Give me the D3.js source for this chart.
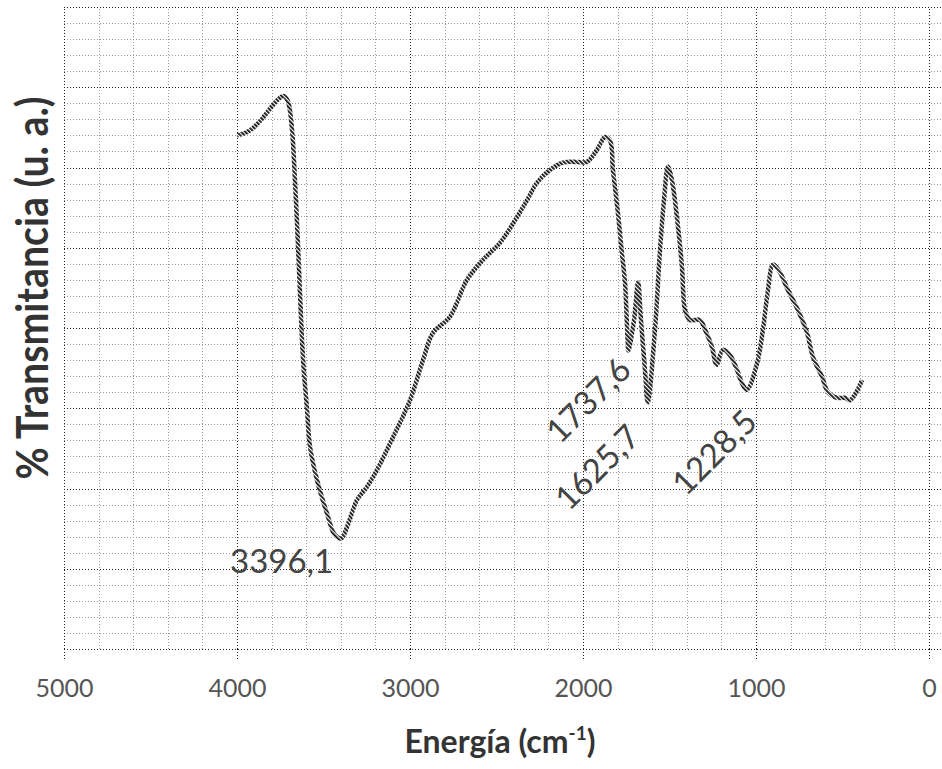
<!DOCTYPE html>
<meta charset="utf-8">
<script src="https://cdn.jsdelivr.net/npm/d3@7/dist/d3.min.js"></script>
<style>
	body{margin:0;background:#fff;font-family:Lato, "Open Sans", sans-serif;}
	.grid line{shape-rendering:crispEdges;}
</style>
<div id="chart"></div>
<script>
// IR spectrum, wavenumber (cm-1) vs transmittance (arbitrary units)
var wavenumber = [4000,3954,3908,3850,3792,3751,3728,3705,3682,3665,3647,3636,3618,3595,3578,3538,3480,3434,3396,3364,
	3306,3249,3191,3098,3000,2925,2867,2769,2671,2578,2480,2382,2324,2266,2191,2116,2035,1977,1919,1873,
	1844,1827,1798,1775,1757,1748,1742,1737.6,1705,1682,1665,1642,1625.7,1584,1555,1532,1509,1486,1457,1428,
	1410,1382,1324,1295,1254,1228.5,1191,1150,1110,1081,1052,994,960,931,902,861,815,757,705,671,
	618,584,532,486,457,428,387]
var transmitancia = [64.0,64.3,64.9,66.2,67.8,68.7,68.9,68.2,64.7,58.4,50.1,44.4,36.0,29.8,25.2,21.1,16.9,14.2,13.8,15.2,
	18.6,20.2,22.3,26.4,31.0,36.0,39.4,41.4,46.0,48.5,50.6,53.8,55.9,58.1,59.7,60.6,60.7,60.7,62.2,63.8,
	63.4,59.7,54.3,49.3,45.6,41.4,38.5,37.2,41.0,45.7,41.0,34.8,30.7,39.8,49.7,55.9,60.1,58.4,53.8,47.6,
	42.2,41.0,41.0,39.8,37.6,35.4,37.3,36.6,34.8,33.1,32.3,35.6,39.8,44.7,47.9,46.9,44.7,42.2,39.4,36.4,
	33.9,32.0,31.3,31.3,31.0,31.7,33.5]

var xMajor = [5000,4000,3000,2000,1000,0]
var xMinor = d3.range(0,5001,200)
var yMajor = d3.range(0,81,10)
var yMinor = d3.range(0,81,2)

// peak annotations
var peakText = ["3396,1","1737,6","1625,7","1228,5"]
var peakRot = [0,-45,-45,-45]
var peakPos = [[230,573],[560,445],[569,512],[686,497]]

var W = 942, H = 769
var margin = {left:64, top:7, right:0, bottom:120}
var width = W - margin.left - margin.right
var height = H - margin.top - margin.bottom

var svg = d3.select("#chart").append("svg")
	.attr("width",W).attr("height",H)

// diagonal hatch like the scanned figure
var defs = svg.append("defs")
var pat = defs.append("pattern").attr("id","hatch")
	.attr("patternUnits","userSpaceOnUse")
	.attr("width",3).attr("height",3)
	.attr("patternTransform","rotate(-45)")
pat.append("rect").attr("width",3).attr("height",3).attr("fill","#fff")
pat.append("rect").attr("width",1.8).attr("height",3).attr("fill","#111")

var g = svg.append("g").attr("transform","translate("+margin.left+","+margin.top+")")

var x = d3.scaleLinear().domain([5000,-75]).range([0,width])
var y = d3.scaleLinear().domain([0,80]).range([height,0])

function gridStyle(sel,color){
	sel.select(".domain").remove()
	sel.selectAll("line").attr("stroke",color).attr("stroke-dasharray","1,2")
}

// minor grid
g.append("g").attr("class","grid")
	.attr("transform","translate(0,"+height+")")
	.call(d3.axisBottom(x).tickValues(xMinor).tickSize(-height).tickFormat(""))
	.call(gridStyle,"#9a9a9a")
g.append("g").attr("class","grid")
	.call(d3.axisLeft(y).tickValues(yMinor).tickSize(-width).tickFormat(""))
	.call(gridStyle,"#9a9a9a")

// major grid
g.append("g").attr("class","grid")
	.attr("transform","translate(0,"+height+")")
	.call(d3.axisBottom(x).tickValues(xMajor).tickSize(-height).tickFormat(""))
	.call(gridStyle,"#222")
g.append("g").attr("class","grid")
	.call(d3.axisLeft(y).tickValues(yMajor).tickSize(-width).tickFormat(""))
	.call(gridStyle,"#222")

// x axis with labels
var xAxis = g.append("g").attr("class","grid")
	.attr("transform","translate(0,"+height+")")
	.call(d3.axisBottom(x).tickValues(xMajor).tickSize(10).tickFormat(d3.format("d")))
xAxis.select(".domain").attr("stroke","#222").attr("stroke-dasharray","1,2")
xAxis.selectAll("line").attr("stroke","#222").attr("stroke-dasharray","1,2")
xAxis.selectAll("text")
	.attr("y",48).attr("dy",0)
	.attr("fill","#555")
	.style("font-family","Lato").style("font-size","25px")

// spectrum line
var line = d3.line()
	.x(function(d,i){return x(wavenumber[i])})
	.y(function(d){return y(d)})
	.curve(d3.curveCatmullRom.alpha(0.5))

g.append("path")
	.datum(transmitancia)
	.attr("d",line)
	.attr("fill","none")
	.attr("stroke","url(#hatch)")
	.attr("stroke-width",4.5)
	.attr("stroke-linejoin","round")

// peak labels
for(var i=0;i<peakText.length;i++){
	svg.append("text")
		.attr("transform","translate("+peakPos[i][0]+","+peakPos[i][1]+") rotate("+peakRot[i]+")")
		.attr("fill","#444")
		.style("font-family","Lato").style("font-size","33px")
		.text(peakText[i])
}

// axis titles
var xt = svg.append("text")
	.attr("x",500).attr("y",753)
	.attr("text-anchor","middle")
	.attr("fill","#333")
	.style("font-family","Lato").style("font-weight","bold").style("font-size","32px")
xt.append("tspan").text("Energía (cm")
xt.append("tspan").attr("dy",-13).style("font-size","19px").text("-1")
xt.append("tspan").attr("dy",13).text(")")

svg.append("text")
	.attr("transform","translate(48,288) rotate(-90)")
	.attr("text-anchor","middle")
	.attr("textLength",383).attr("lengthAdjust","spacingAndGlyphs")
	.attr("fill","#333")
	.style("font-family","Lato").style("font-weight","bold").style("font-size","44px")
	.text("% Transmitancia (u. a.)")
</script>
